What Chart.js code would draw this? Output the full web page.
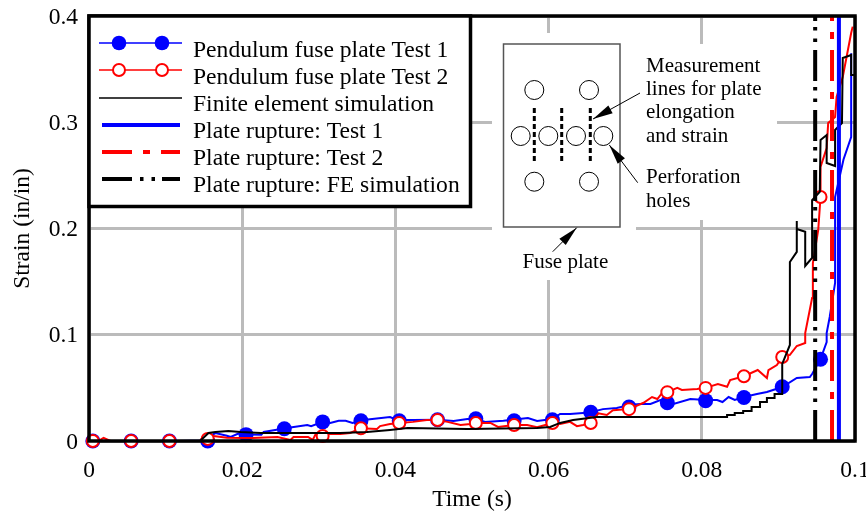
<!DOCTYPE html>
<html>
<head>
<meta charset="utf-8">
<title>Fuse plate strain</title>
<script src="https://cdn.jsdelivr.net/npm/chart.js@4"></script>
<style>
html, body { margin: 0; padding: 0; background: #fff; }
canvas { display: block; }
</style>
</head>
<body>
<canvas id="myChart" width="866" height="514"></canvas>
<script>
var test1Time = [0, .0115, .015, .0152, .0165, .018, .0185, .0195, .0205, .0225, .0228, .0245, .0255, .0265, .0285, .029, .0305, .0315, .0326, .0335, .0344, .0358, .0393, .0402, .0423, .0455, .0476, .0494, .0505, .0517, .0541, .0573, .0585, .0605, .0615, .0628, .0645, .0655, .0671, .0689, .0706, .0719, .0733, .0746, .0763, .0785, .0805, .082, .0827, .0835, .0843, .0855, .0872, .0885, .0905, .0924, .0941, .0944, .0955, .0963, .0963, .0967, .0974, .0974, .0985, .0995, .0995];
var test1Strain = [0, 0, .0005, .002, .0075, .005, .0038, .007, .006, .0058, .0085, .0105, .0115, .013, .015, .014, .018, .017, .019, .019, .017, .0198, .0226, .0198, .0198, .02, .0188, .0207, .021, .018, .019, .0216, .0188, .0207, .0254, .0254, .0264, .027, .03, .031, .034, .0348, .0348, .0386, .0348, .0395, .0386, .0386, .0367, .0414, .0386, .0414, .0442, .0461, .0508, .0593, .0602, .063, .077, .0932, .1016, .1167, .1487, .2296, .2650, .2861, .365];
var test1MarkerTime = [.0005, .0055, .0105, .0155, .0205, .0255, .0305, .0355, .0405, .0455, .0505, .0555, .0605, .0655, .0705, .0755, .0805, .0855, .0905, .0955];
var test1MarkerStrain = [0, 0, 0, 0, .006, .0115, .018, .019, .019, .02, .021, .019, .02, .027, .032, .036, .038, .041, .051, .077];

var test2Time = [0, .0012, .0019, .0028, .0145, .015, .0165, .018, .0213, .0246, .0263, .0267, .0286, .0292, .0296, .0328, .0341, .0355, .0376, .038, .0393, .0405, .0423, .0441, .0455, .0468, .0485, .0498, .0505, .0524, .0534, .0555, .0572, .0585, .0605, .0615, .0628, .0637, .0645, .0655, .0665, .0676, .0684, .0705, .0724, .0735, .0742, .0748, .0755, .0768, .0774, .0794, .0805, .0821, .0833, .0837, .0855, .0873, .0885, .0887, .0898, .0905, .0915, .0924, .0935, .0935, .0944, .0945, .0952, .0955, .0955, .0963, .0965, .0974, .0976, .0984, .0995, .0997];
var test2Strain = [0, 0, .003, 0, 0, .0056, .0045, .003, .0028, .0038, .001, .0038, .0038, .001, .0066, .0066, .0075, .012, .0113, .014, .016, .017, .018, .0198, .0198, .018, .015, .016, .017, .017, .0132, .015, .015, .013, .017, .016, .018, .014, .015, .017, .026, .0245, .029, .03, .036, .0414, .0395, .045, .046, .05, .048, .049, .05, .0536, .051, .0574, .061, .0668, .0593, .0668, .0715, .079, .081, .0894, .0922, .1016, .1346, .1675, .1986, .2296, .258, .2758, .2993, .305, .3238, .3426, .384, .39];
var test2MarkerTime = [.0005, .0055, .0105, .0155, .0305, .0355, .0405, .0455, .0505, .0555, .0605, .0655, .0705, .0755, .0805, .0855, .0905, .0955];
var test2MarkerStrain = [0, 0, 0, .002, .0047, .012, .017, .0198, .017, .015, .017, .017, .03, .046, .05, .061, .079, .2296];

var feTime = [0, .0145, .0156, .0165, .0182, .0198, .0224, .0276, .0328, .0363, .0393, .0416, .0494, .0585, .0602, .0615, .0632, .0663, .0824, .0833, .0833, .0843, .0843, .0854, .0854, .0865, .0865, .0876, .0876, .0885, .0885, .0895, .0895, .0905, .0905, .0915, .0915, .0924, .0924, .0924, .0935, .0935, .0945, .0944, .0954, .0955, .0963, .0963, .0974, .0974, .0983, .0984, .0995, .0995, .1];
var feStrain = [0, 0, .0075, .0085, .0094, .0085, .0075, .0075, .0075, .0085, .0104, .0122, .0113, .0122, .0132, .017, .0198, .0226, .0226, .0226, .0245, .0245, .0264, .0264, .0282, .0282, .032, .032, .0367, .0367, .0405, .0405, .0442, .0442, .0725, .0904, .1685, .178, .207, .1995, .197, .1647, .1732, .2268, .2344, .2833, .288, .2616, .2588, .2927, .2993, .3605, .3633, .3445, .3445];

var ruptureStrain = [0, .4];
var ruptureTest1 = [.0979, .0979];
var ruptureTest2 = [.097, .097];
var ruptureFE = [.0948, .0948];

var legendLabels = ['Pendulum fuse plate Test 1', 'Pendulum fuse plate Test 2', 'Finite element simulation', 'Plate rupture: Test 1', 'Plate rupture: Test 2', 'Plate rupture: FE simulation'];
var serif = '"Liberation Serif"';

function pts(xs, ys) {
    return xs.map(function (x, i) { return { x: x, y: ys[i] }; });
}

function arrow(ctx, x0, y0, x1, y1) {
    var a = Math.atan2(y1 - y0, x1 - x0);
    ctx.strokeStyle = '#000';
    ctx.lineWidth = 1;
    ctx.beginPath();
    ctx.moveTo(x0, y0);
    ctx.lineTo(x1, y1);
    ctx.stroke();
    ctx.save();
    ctx.translate(x1, y1);
    ctx.rotate(a);
    ctx.fillStyle = '#000';
    ctx.beginPath();
    ctx.moveTo(0, 0);
    ctx.lineTo(-20, -4.5);
    ctx.lineTo(-20, 4.5);
    ctx.fill();
    ctx.restore();
}

// white patches behind the inset, they hide the grid
var insetBack = {
    id: 'insetBack',
    beforeDraw: function (chart) {
        // the y labels sit a bit high with a middle baseline
        chart.scales.y.getLabelItems().forEach(function (item) {
            if (!item.moved) {
                item.options.translation[1] += 1.5;
                item.moved = true;
            }
        });
    },
    beforeDatasetsDraw: function (chart) {
        var ctx = chart.ctx;
        ctx.fillStyle = '#fff';
        ctx.fillRect(492, 33, 144, 247);
        ctx.fillRect(636, 44, 141, 176);
    }
};

var overlay = {
    id: 'overlay',
    afterDatasetsDraw: function (chart) {
        var ctx = chart.ctx;
        var a = chart.chartArea;
        ctx.save();

        // plot frame
        ctx.strokeStyle = '#000';
        ctx.lineWidth = 3.5;
        ctx.strokeRect(a.left, a.top, a.right - a.left, a.bottom - a.top);

        // fuse plate sketch
        ctx.strokeStyle = '#555';
        ctx.lineWidth = 1.5;
        ctx.strokeRect(503.5, 44, 116.5, 183);
        ctx.strokeStyle = '#000';
        ctx.lineWidth = 1;
        [[534.3, 90], [589, 90], [520.7, 136], [548.3, 136], [576, 136], [603.3, 136], [534.3, 181.7], [589, 181.7]].forEach(function (h) {
            ctx.beginPath();
            ctx.arc(h[0], h[1], 9.5, 0, Math.PI * 2);
            ctx.stroke();
        });
        ctx.lineWidth = 3;
        ctx.setLineDash([5, 3]);
        [534.3, 561.7, 590.3].forEach(function (x) {
            ctx.beginPath();
            ctx.moveTo(x, 108);
            ctx.lineTo(x, 162);
            ctx.stroke();
        });
        ctx.setLineDash([]);
        arrow(ctx, 640, 93, 593, 119);
        arrow(ctx, 637.7, 182.7, 609.3, 145);
        arrow(ctx, 552.7, 251.7, 576.7, 227.7);

        ctx.fillStyle = '#000';
        ctx.font = '21px ' + serif;
        ctx.textBaseline = 'alphabetic';
        ctx.textAlign = 'left';
        ctx.fillText('Measurement', 646, 72);
        ctx.fillText('lines for plate', 646, 95);
        ctx.fillText('elongation', 646, 118);
        ctx.fillText('and strain', 646, 142);
        ctx.fillText('Perforation', 646, 183);
        ctx.fillText('holes', 646, 207);
        ctx.fillText('Fuse plate', 522.5, 268);

        // legend box
        ctx.fillStyle = '#fff';
        ctx.fillRect(89, 16, 381.5, 190.5);
        ctx.strokeStyle = '#000';
        ctx.lineWidth = 3.5;
        ctx.strokeRect(89, 16, 381.5, 190.5);

        var rowY = [43, 70, 98, 125, 152, 179];
        var textY = [57, 84, 111, 138, 165, 192];
        ctx.font = '23.6px ' + serif;
        ctx.fillStyle = '#000';
        legendLabels.forEach(function (t, i) {
            ctx.fillText(t, 193, textY[i]);
        });

        function sample(y, color, w, dash, x0, x1) {
            ctx.strokeStyle = color;
            ctx.lineWidth = w;
            ctx.setLineDash(dash);
            ctx.beginPath();
            ctx.moveTo(x0, y);
            ctx.lineTo(x1, y);
            ctx.stroke();
            ctx.setLineDash([]);
        }
        sample(rowY[0], '#0000ff', 1.5, [], 99, 182);
        sample(rowY[1], '#ff0000', 1.5, [], 99, 182);
        sample(rowY[2], '#000', 1.5, [], 99, 182);
        sample(rowY[3], '#0000ff', 4, [], 102, 180);
        sample(rowY[4], '#ff0000', 4, [30, 11, 7, 11], 102, 180);
        sample(rowY[5], '#000', 4, [30, 8, 3.5, 8, 3.5, 7], 102, 180);
        [119, 162].forEach(function (x) {
            ctx.fillStyle = '#0000ff';
            ctx.beginPath();
            ctx.arc(x, rowY[0], 7.3, 0, Math.PI * 2);
            ctx.fill();
            ctx.fillStyle = '#fff';
            ctx.strokeStyle = '#ff0000';
            ctx.lineWidth = 2;
            ctx.beginPath();
            ctx.arc(x, rowY[1], 6, 0, Math.PI * 2);
            ctx.fill();
            ctx.stroke();
        });
        ctx.restore();
    }
};

function lineSet(xs, ys, color, width, dash) {
    return {
        data: pts(xs, ys),
        showLine: true,
        borderColor: color,
        borderWidth: width,
        borderDash: dash || [],
        pointRadius: 0,
        tension: 0,
        fill: false
    };
}

function markerSet(xs, ys, radius, fill, stroke, strokeWidth) {
    return {
        data: pts(xs, ys),
        showLine: false,
        pointRadius: radius,
        pointBackgroundColor: fill,
        pointBorderColor: stroke,
        pointBorderWidth: strokeWidth,
        clip: false
    };
}

var ctx = document.getElementById('myChart').getContext('2d');

var myChart = new Chart(ctx, {
    type: 'scatter',
    data: {
        // first dataset is painted last
        datasets: [
            lineSet(ruptureTest1, ruptureStrain, '#0000ff', 4),
            lineSet(feTime, feStrain, '#000', 2),
            lineSet(ruptureFE, ruptureStrain, '#000', 4, [31, 8, 3.5, 8, 3.5, 6]),
            lineSet(ruptureTest2, ruptureStrain, '#ff0000', 4, [31, 11, 7, 11]),
            markerSet(test2MarkerTime, test2MarkerStrain, 6, '#fff', '#ff0000', 2),
            lineSet(test2Time, test2Strain, '#ff0000', 2),
            markerSet(test1MarkerTime, test1MarkerStrain, 7.5, '#0000ff', '#0000ff', 0),
            lineSet(test1Time, test1Strain, '#0000ff', 2)
        ]
    },
    options: {
        responsive: false,
        animation: false,
        layout: { padding: { top: 16, right: 11, bottom: 0, left: 0 } },
        plugins: { legend: { display: false }, tooltip: { enabled: false } },
        scales: {
            x: {
                type: 'linear',
                min: 0,
                max: 0.1,
                afterFit: function (s) { s.height = 73; s.paddingLeft = 0; s.paddingRight = 0; },
                grid: { color: '#bbbbbb', lineWidth: 3, drawTicks: false },
                border: { display: false },
                ticks: {
                    stepSize: 0.02,
                    padding: 16,
                    maxRotation: 0,
                    color: '#000',
                    font: { family: serif, size: 23.5 },
                    callback: function (v) { return String(+v.toFixed(2)); }
                },
                title: {
                    display: true,
                    text: 'Time (s)',
                    color: '#000',
                    font: { family: serif, size: 23.5 },
                    padding: 0
                }
            },
            y: {
                min: 0,
                max: 0.4,
                afterFit: function (s) { s.width = 89; s.paddingTop = 0; s.paddingBottom = 0; },
                grid: { color: '#bbbbbb', lineWidth: 3, drawTicks: false },
                border: { display: false },
                ticks: {
                    stepSize: 0.1,
                    padding: 11,
                    color: '#000',
                    font: { family: serif, size: 23.5 },
                    callback: function (v) { return String(+v.toFixed(1)); }
                },
                title: {
                    display: true,
                    text: 'Strain (in/in)',
                    color: '#000',
                    font: { family: serif, size: 23.5 },
                    padding: { top: 9, bottom: 0 }
                }
            }
        }
    },
    plugins: [insetBack, overlay]
});
</script>
</body>
</html>
